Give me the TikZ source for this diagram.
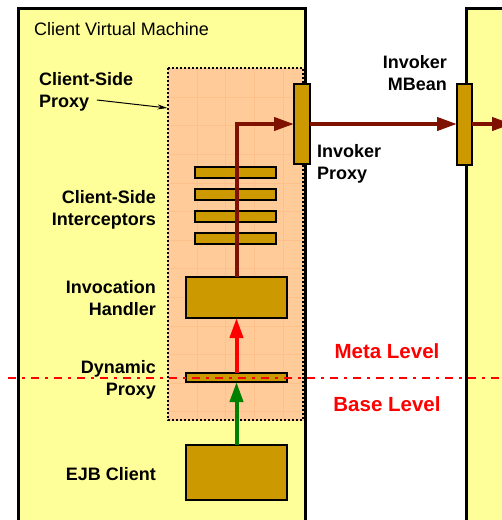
\documentclass[tikz,border=0pt]{standalone}
\usepackage{fontspec}
\setmainfont{Liberation Sans}
\usetikzlibrary{arrows.meta}
\definecolor{vmyellow}{HTML}{FFFF99}
\definecolor{proxyorange}{HTML}{FFCC99}
\definecolor{gridorange}{HTML}{FFC08C}
\definecolor{gold}{HTML}{CC9900}
\definecolor{darkred}{HTML}{7F1100}
\definecolor{flowgreen}{HTML}{008000}
\begin{document}
\begin{tikzpicture}[x=1pt,y=-1pt,
  vm/.style={draw=black, line width=3pt, fill=vmyellow},
  proxyregion/.style={fill=proxyorange, inner sep=0},
  proxyborder/.style={draw=black, line width=2pt, dash pattern=on 2pt off 2pt},
  gridline/.style={draw=gridorange, line width=0.5pt},
  part/.style={draw=black, line width=2pt, fill=gold, inner sep=0, outer sep=0},
  lbl/.style={font=\bfseries\fontsize{18}{22.5}\selectfont, inner sep=0},
  plainlbl/.style={font=\fontsize{18}{22}\selectfont, inner sep=0},
  level/.style={font=\bfseries\fontsize{20.5}{24}\selectfont, text=red, inner sep=0},
  flow/.style={line width=4pt, -{Triangle[length=20pt,width=13pt]}},
  pointer/.style={draw=black, line width=1pt, -{Stealth[length=10pt,width=5pt]}},
  levelline/.style={draw=red, line width=2pt, dash pattern=on 8pt off 6pt on 2.5pt off 6.5pt}
]
\useasboundingbox (0,0) rectangle (502,520);
\clip (0,0) rectangle (502,520);
\fill[white] (0,0) rectangle (502,520);

% virtual machines
\node[vm, anchor=north west, minimum width=287, minimum height=540, inner sep=0] (clientvm) at (16.5,7) {};
\node[vm, anchor=north west, minimum width=100, minimum height=540, inner sep=0] (servervm) at (465,7) {};

% client-side proxy region
\node[proxyregion, anchor=north west, minimum width=136, minimum height=353] (csproxy) at (167.5,67.5) {};
\foreach \gx in {197,225.6,254.2,282.8} \draw[gridline] (\gx,69.5) -- (\gx,418.5);
\foreach \gy in {97,125.6,154.2,182.8,211.4,240,268.6,297.2,325.8,354.4,383,411.6} \draw[gridline] (169.5,\gy) -- (301.5,\gy);
\draw[proxyborder] (168,68) rectangle (303,420);

% components
\node[part, minimum width=16, minimum height=80] (iproxy) at (302,124) {};
\node[part, minimum width=15, minimum height=81] (mbean) at (464.5,124) {};
\node[part, minimum width=81, minimum height=11] (ic1) at (235.5,172.5) {};
\node[part, minimum width=81, minimum height=11] (ic2) at (235.5,194) {};
\node[part, minimum width=81, minimum height=11] (ic3) at (235.5,216) {};
\node[part, minimum width=81, minimum height=11] (ic4) at (235.5,238.5) {};
\node[part, minimum width=101, minimum height=41] (handler) at (236.5,297.5) {};
\node[part, minimum width=101, minimum height=9] (dproxy) at (236.5,377.5) {};
\node[part, minimum width=101, minimum height=55] (ejb) at (236.5,472.5) {};
\coordinate (outside) at (512,124);

% flows
\draw[flow, darkred] (handler.north) |- (iproxy.west);
\draw[flow, darkred] (iproxy.east) -- (mbean.west);
\draw[flow, darkred] (mbean.east) -- (outside);
\draw[flow, red] (dproxy.north) -- (handler.south);
\draw[flow, flowgreen] (ejb.north) -- (dproxy.south);

% meta / base level separator
\coordinate (sepL) at (8,378);
\coordinate (sepR) at (502,378);
\draw[levelline] (sepL) -- (sepR);

% labels
\node[plainlbl, anchor=north west] (vmlabel) at (34,22) {Client Virtual Machine};
\node[lbl, anchor=north west, align=left] (csplabel) at (39,72) {Client-Side\\Proxy};
\coordinate (ptrstart) at (97,100);
\coordinate (ptrend) at (csproxy.west |- 0,108);
\draw[pointer] (ptrstart) -- (ptrend);
\node[lbl, anchor=north east, align=right] (iclabel) at (156,190) {Client-Side\\Interceptors};
\node[lbl, anchor=north east, align=right] (hlabel) at (156,280) {Invocation\\Handler};
\node[lbl, anchor=north east, align=right] (dplabel) at (156,360) {Dynamic\\Proxy};
\node[lbl, anchor=north east, align=right] (ejblabel) at (156,467) {EJB Client};
\node[lbl, anchor=north east, align=right] (mblabel) at (447,55) {Invoker\\MBean};
\node[lbl, anchor=north west, align=left] (iplabel) at (317,144) {Invoker\\Proxy};
\node[level, anchor=north] (metalabel) at (387,343) {Meta Level};
\node[level, anchor=north] (baselabel) at (387,396) {Base Level};
\end{tikzpicture}
\end{document}
